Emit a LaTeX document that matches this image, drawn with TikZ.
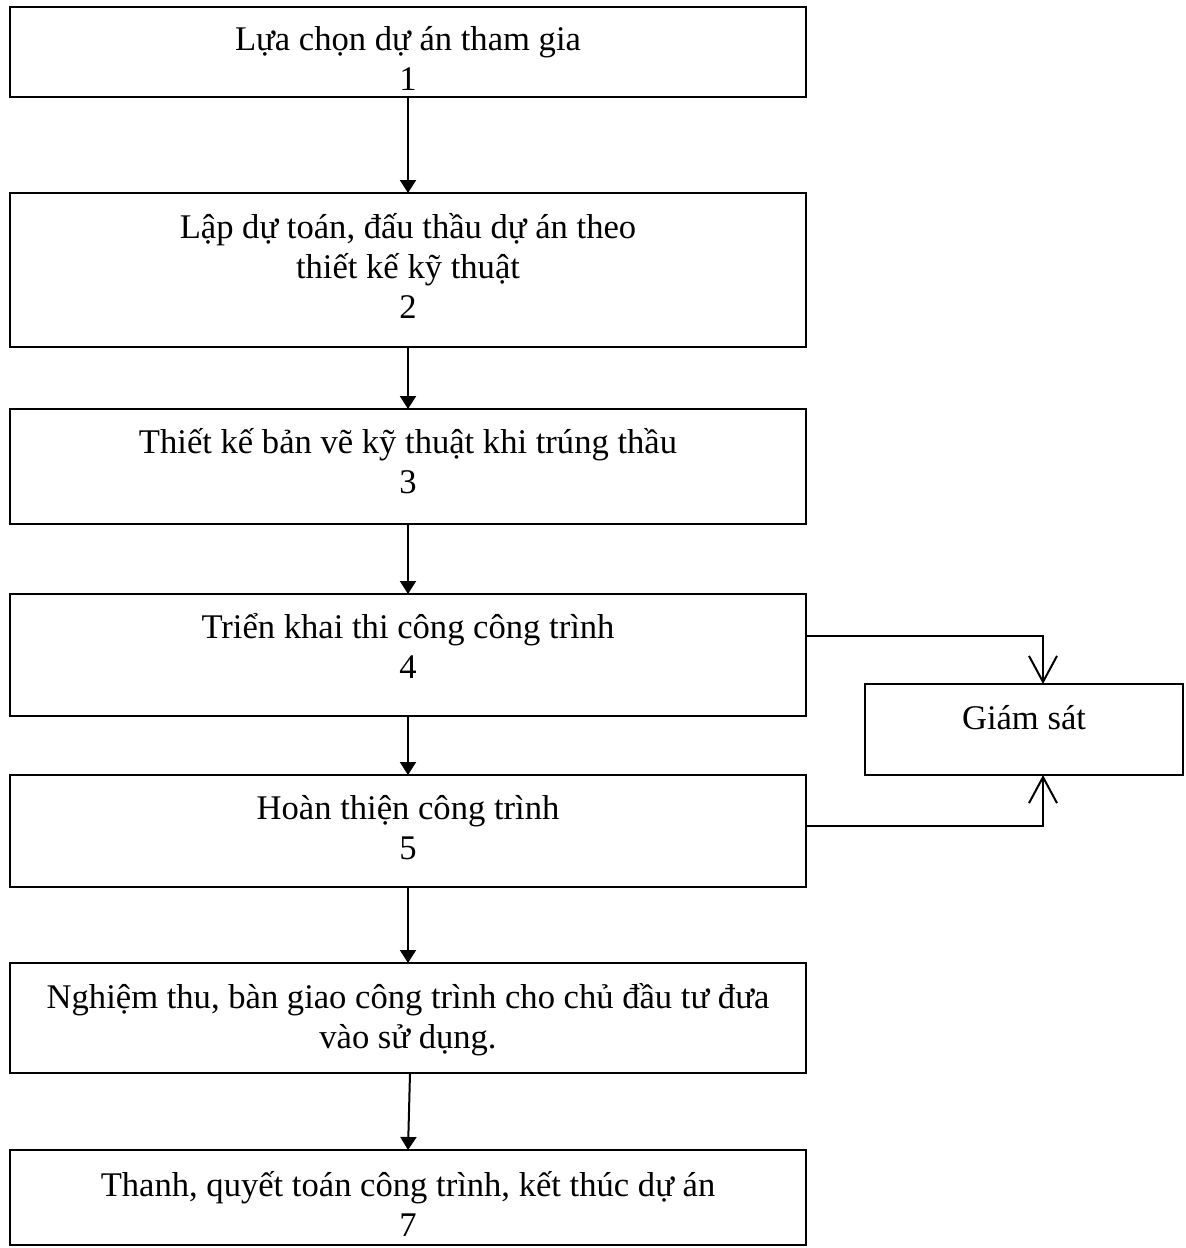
\documentclass[tikz,border=0pt]{standalone}
\usepackage{fontspec}
\setmainfont{Liberation Serif}
\usepackage{tikz}
\usetikzlibrary{positioning, arrows.meta}

\begin{document}
\begin{tikzpicture}[line width=1pt, font=\fontsize{17.3}{20}\selectfont,
	stepbox/.style={draw, minimum width=398pt, outer sep=0pt},
	steptext/.style={align=center, inner sep=0pt},
	flow/.style={-{Triangle[length=6.5pt, width=8pt]}},
	watch/.style={-{Straight Barb[length=13pt, width=14pt]}}]
		\useasboundingbox (0,0) rectangle (592.5pt,-624pt);
		% frames
		\node[stepbox, minimum height=45pt] (s1) at (204pt,-26pt) {};
		\node[stepbox, minimum height=77pt, below=48pt of s1] (s2) {};
		\node[stepbox, minimum height=57.5pt, below=31pt of s2] (s3) {};
		\node[stepbox, minimum height=61pt, below=35pt of s3] (s4) {};
		\node[stepbox, minimum height=56pt, below=29.5pt of s4] (s5) {};
		\node[stepbox, minimum height=55pt, below=38pt of s5] (s6) {};
		\node[stepbox, minimum height=47.5pt, below=38.5pt of s6] (s7) {};
		\node[draw, outer sep=0pt, minimum width=159pt, minimum height=45.5pt] (gs) at (512pt,-364.75pt) {};
		% texts
		\node[steptext, yshift=-3.25pt] (t1) at (s1) {Lựa chọn dự án tham gia\\1};
		\node[steptext, yshift=2pt] (t2) at (s2) {Lập dự toán, đấu thầu dự án theo\\thiết kế kỹ thuật\\2};
		\node[steptext, yshift=2.75pt] (t3) at (s3) {Thiết kế bản vẽ kỹ thuật khi trúng thầu\\3};
		\node[steptext, yshift=4.5pt] (t4) at (s4) {Triển khai thi công công trình\\4};
		\node[steptext, yshift=1.75pt] (t5) at (s5) {Hoàn thiện công trình\\5};
		\node[steptext, yshift=-0.75pt] (t6) at (s6) {Nghiệm thu, bàn giao công trình cho chủ đầu tư đưa\\vào sử dụng.};
		\node[steptext, yshift=-3.25pt] (t7) at (s7) {Thanh, quyết toán công trình, kết thúc dự án\\7};
		\node[steptext, yshift=5.75pt] (tg) at (gs) {Giám sát};
		% flow
		\draw[flow] (s1) -- (s2);
		\draw[flow] (s2) -- (s3);
		\draw[flow] (s3) -- (s4);
		\draw[flow] (s4) -- (s5);
		\draw[flow] (s5) -- (s6);
		\draw[flow] ([xshift=1pt]s6.south) -- (s7.north);
		% monitoring
		\draw[watch] ([yshift=9.5pt]s4.east) -| ([xshift=9.5pt]gs.north);
		\draw[watch] ([yshift=2.5pt]s5.east) -| ([xshift=9.5pt]gs.south);
	\end{tikzpicture}
\end{document}
